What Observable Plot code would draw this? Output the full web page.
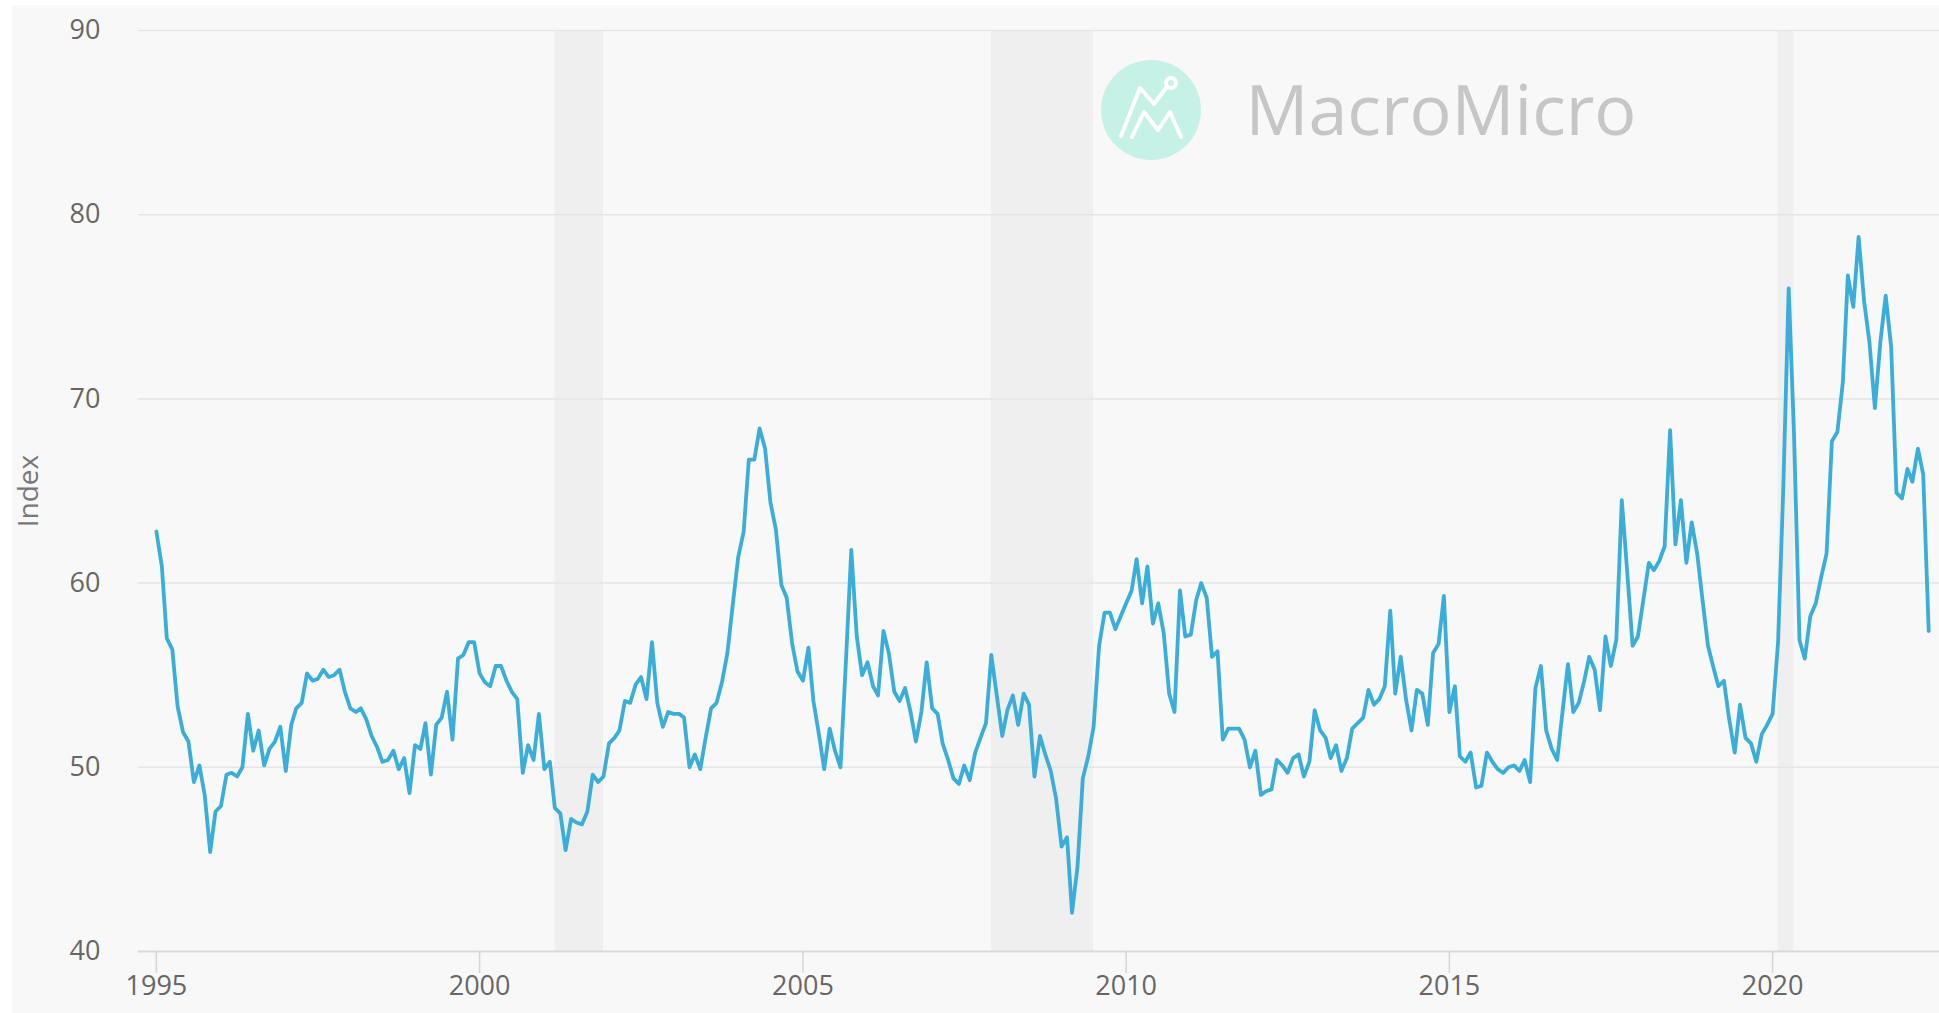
<!DOCTYPE html>
<html>
<head>
<meta charset="utf-8">
<script src="https://cdn.jsdelivr.net/npm/d3@7"></script>
<script src="https://cdn.jsdelivr.net/npm/@observablehq/plot@0.6"></script>
<style>
  html, body { margin: 0; padding: 0; background: #ffffff; overflow: hidden; }
  #wrap { position: relative; width: 1939px; height: 1013px; }
  #bg { position: absolute; left: 12px; top: 5px; right: 0; bottom: 0; background: #f8f8f8; }
  #chart { position: absolute; left: 0; top: 0; }
  #logo { position: absolute; left: 0; top: 0; pointer-events: none; }
</style>
</head>
<body>
<div id="wrap">
  <div id="bg"></div>
  <div id="chart"></div>
  <svg id="logo" width="1939" height="1013"></svg>
</div>
<script>
// Monthly index values, January 1995 to June 2022 (one row per year)
const startYear = 1995;
const values1995 = [62.8, 60.9, 57.0, 56.4, 53.3, 51.9, 51.4, 49.2, 50.1, 48.5, 45.4, 47.6];
const values1996 = [47.9, 49.6, 49.7, 49.5, 50.0, 52.9, 50.9, 52.0, 50.1, 51.0, 51.4, 52.2];
const values1997 = [49.8, 52.3, 53.2, 53.5, 55.1, 54.7, 54.8, 55.3, 54.9, 55.0, 55.3, 54.1];
const values1998 = [53.2, 53.0, 53.2, 52.6, 51.7, 51.1, 50.3, 50.4, 50.9, 49.9, 50.5, 48.6];
const values1999 = [51.2, 51.0, 52.4, 49.6, 52.3, 52.7, 54.1, 51.5, 55.9, 56.1, 56.8, 56.8];
const values2000 = [55.1, 54.6, 54.4, 55.5, 55.5, 54.7, 54.1, 53.7, 49.7, 51.2, 50.4, 52.9];
const values2001 = [49.9, 50.3, 47.8, 47.5, 45.5, 47.2, 47.0, 46.9, 47.6, 49.6, 49.2, 49.5];
const values2002 = [51.3, 51.6, 52.0, 53.6, 53.5, 54.5, 54.9, 53.7, 56.8, 53.5, 52.2, 53.0];
const values2003 = [52.9, 52.9, 52.7, 50.0, 50.7, 49.9, 51.6, 53.2, 53.5, 54.6, 56.2, 58.8];
const values2004 = [61.4, 62.8, 66.7, 66.7, 68.4, 67.3, 64.4, 62.9, 59.9, 59.2, 56.7, 55.2];
const values2005 = [54.7, 56.5, 53.6, 51.8, 49.9, 52.1, 50.9, 50.0, 55.8, 61.8, 57.1, 55.0];
const values2006 = [55.7, 54.4, 53.9, 57.4, 56.2, 54.1, 53.6, 54.3, 53.0, 51.4, 53.0, 55.7];
const values2007 = [53.2, 52.9, 51.3, 50.4, 49.4, 49.1, 50.1, 49.3, 50.8, 51.6, 52.4, 56.1];
const values2008 = [53.9, 51.7, 53.1, 53.9, 52.3, 54.0, 53.4, 49.5, 51.7, 50.7, 49.8, 48.3];
const values2009 = [45.7, 46.2, 42.1, 44.6, 49.4, 50.6, 52.2, 56.6, 58.4, 58.4, 57.5, 58.2];
const values2010 = [58.9, 59.6, 61.3, 58.9, 60.9, 57.8, 58.9, 57.3, 54.0, 53.0, 59.6, 57.1];
const values2011 = [57.2, 59.1, 60.0, 59.2, 56.0, 56.3, 51.5, 52.1, 52.1, 52.1, 51.5, 50.0];
const values2012 = [50.9, 48.5, 48.7, 48.8, 50.4, 50.1, 49.7, 50.5, 50.7, 49.5, 50.3, 53.1];
const values2013 = [52.0, 51.6, 50.5, 51.2, 49.8, 50.5, 52.1, 52.4, 52.7, 54.2, 53.4, 53.7];
const values2014 = [54.4, 58.5, 54.0, 56.0, 53.7, 52.0, 54.2, 54.0, 52.3, 56.2, 56.7, 59.3];
const values2015 = [53.0, 54.4, 50.6, 50.3, 50.8, 48.9, 49.0, 50.8, 50.3, 49.9, 49.7, 50.0];
const values2016 = [50.1, 49.8, 50.4, 49.2, 54.3, 55.5, 52.0, 51.0, 50.4, 53.0, 55.6, 53.0];
const values2017 = [53.5, 54.7, 56.0, 55.3, 53.1, 57.1, 55.5, 56.9, 64.5, 60.7, 56.6, 57.1];
const values2018 = [59.1, 61.1, 60.7, 61.2, 62.0, 68.3, 62.1, 64.5, 61.1, 63.3, 61.6, 59.1];
const values2019 = [56.6, 55.4, 54.4, 54.7, 52.6, 50.8, 53.4, 51.6, 51.3, 50.3, 51.8, 52.3];
const values2020 = [52.9, 56.8, 65.0, 76.0, 68.1, 56.9, 55.9, 58.2, 58.9, 60.3, 61.6, 67.7];
const values2021 = [68.2, 70.9, 76.7, 75.0, 78.8, 75.3, 73.1, 69.5, 73.1, 75.6, 72.8, 64.9];
const values2022 = [64.6, 66.2, 65.5, 67.3, 65.9, 57.4];

// Recession periods (shaded)
const recessionStarts = ["2001-03-01", "2007-12-01", "2020-02-01"];
const recessionEnds   = ["2001-12-01", "2009-07-01", "2020-05-01"];

// Axis ticks
const yTicks = [40, 50, 60, 70, 80, 90];
const xTickYears = [1995, 2000, 2005, 2010, 2015, 2020];
const yLabel = "Index";
const watermark = "MacroMicro";

// ---- build tables ----
const yearly = [values1995, values1996, values1997, values1998, values1999, values2000,
  values2001, values2002, values2003, values2004, values2005, values2006, values2007,
  values2008, values2009, values2010, values2011, values2012, values2013, values2014,
  values2015, values2016, values2017, values2018, values2019, values2020, values2021, values2022];
const data = [];
yearly.forEach((arr, i) => arr.forEach((v, m) => data.push({date: new Date(Date.UTC(startYear + i, m, 1)), value: v})));
const recessions = recessionStarts.map((s, i) => ({start: new Date(s + "T00:00:00Z"), end: new Date(recessionEnds[i] + "T00:00:00Z")}));
const xTicks = xTickYears.map(y => new Date(Date.UTC(y, 0, 1)));

const chart = Plot.plot({
  width: 1939,
  height: 1013,
  marginLeft: 138,
  marginRight: 0,
  marginTop: 30,
  marginBottom: 62,
  style: {background: "transparent", fontFamily: "'Open Sans', 'Noto Sans', sans-serif", fontSize: "27px", color: "#666"},
  x: {type: "utc", domain: [new Date(Date.UTC(1994, 8, 22)), new Date(Date.UTC(2022, 7, 1))], label: null},
  y: {domain: [40, 90], label: null},
  marks: [
    Plot.rect(recessions, {x1: "start", x2: "end", y1: () => 40, y2: () => 90, fill: "#efefef"}),
    Plot.ruleY(yTicks.slice(1), {stroke: "#e5e5e5", strokeWidth: 1.5}),
    Plot.ruleY([40], {stroke: "#d9d9d9", strokeWidth: 2}),
    Plot.axisX({ticks: xTicks, tickFormat: d => String(d.getUTCFullYear()), tickSize: 22, tickPadding: 2, stroke: "#d5d5d5", strokeWidth: 1.5, fill: "#666", label: null}),
    Plot.axisY({ticks: yTicks, tickSize: 0, tickPadding: 38, fill: "#666", label: null}),
    Plot.text([yLabel], {frameAnchor: "left", dx: -109, rotate: -90, textAnchor: "middle", lineAnchor: "middle", fill: "#777", fontSize: 28}),
    Plot.text([watermark], {frameAnchor: "top-left", dx: 1107, dy: 82, textAnchor: "start", lineAnchor: "middle", fill: "#c6c6c6", fontSize: 70, fontWeight: 400}),
    Plot.lineY(data, {x: "date", y: "value", stroke: "#3aaed8", strokeWidth: 3.8})
  ]
});
document.getElementById("chart").appendChild(chart);

// decorative logo mark of the watermark
const logo = d3.select("#logo");
const cx = 1151, cy = 110;
logo.append("circle").attr("cx", cx).attr("cy", cy).attr("r", 50).attr("fill", "#c6f1e7");
const g = logo.append("g").attr("fill", "none").attr("stroke", "#ffffff").attr("stroke-width", 4).attr("stroke-linecap", "round").attr("stroke-linejoin", "round");
g.append("polyline").attr("points", [[-30,26],[-11,-22],[3,-6],[15,-22]].map(p => [cx+p[0], cy+p[1]].join(",")).join(" "));
g.append("circle").attr("cx", cx + 20).attr("cy", cy - 27).attr("r", 5);
g.append("polyline").attr("points", [[-19,27],[-7,2],[7,20],[19,2],[30,27]].map(p => [cx+p[0], cy+p[1]].join(",")).join(" "));
</script>
</body>
</html>
